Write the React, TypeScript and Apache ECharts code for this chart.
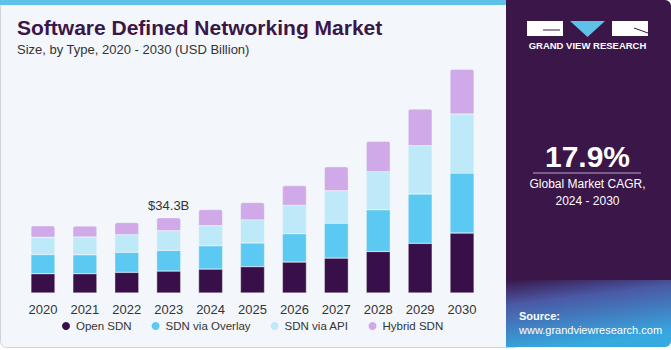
import React, { useEffect, useRef } from "react";
import * as echarts from "echarts";

const years = ["2020", "2021", "2022", "2023", "2024", "2025", "2026", "2027", "2028", "2029", "2030"];
const openSDN = [8.8, 8.8, 9.4, 10.0, 10.9, 12.0, 14.1, 15.9, 18.9, 22.6, 27.3];
const overlaySDN = [8.7, 8.6, 9.1, 9.4, 10.6, 10.8, 12.9, 15.9, 19.0, 22.5, 27.3];
const apiSDN = [7.9, 8.1, 8.1, 9.0, 9.1, 10.5, 12.9, 14.8, 17.4, 22.0, 26.9];
const hybridSDN = [5.2, 5.0, 5.5, 5.9, 7.4, 7.9, 9.0, 10.9, 13.8, 16.7, 20.4];
const seriesNames = ["Open SDN", "SDN via Overlay", "SDN via API", "Hybrid SDN"];
const colors = ["#380f48", "#5bc9f2", "#bde9f9", "#d0a9e8"];
const callout = { index: 3, text: "$34.3B" };

export default function App() {
  const ref = useRef<HTMLDivElement>(null);
  useEffect(() => {
    const chart = echarts.init(ref.current!, null, { renderer: "svg" });
    const data = [openSDN, overlaySDN, apiSDN, hybridSDN];
    const font = "'Liberation Sans', Arial, sans-serif";
    chart.setOption({
      animation: false,
      textStyle: { fontFamily: font },
      grid: { left: 22, right: 188, top: 51.5, bottom: 57 },
      xAxis: {
        type: "category",
        data: years,
        axisLine: { show: false },
        axisTick: { show: false },
        axisLabel: { color: "#333", fontSize: 13, margin: 10, fontFamily: font },
      },
      yAxis: { type: "value", min: 0, max: 110, show: false, splitLine: { show: false } },
      legend: {
        bottom: 13,
        left: 55,
        itemWidth: 10,
        itemHeight: 10,
        itemGap: 18,
        icon: "circle",
        textStyle: { color: "#333", fontSize: 11.5, fontFamily: font },
        data: seriesNames,
      },
      series: seriesNames.map((name, i) => ({
        name,
        type: "bar",
        stack: "total",
        barWidth: 24,
        data: data[i].map((v, j) => {
          if (i === 3 && j === callout.index) {
            return {
              value: v,
              label: {
                show: true,
                position: "top",
                formatter: callout.text,
                color: "#333",
                fontSize: 13,
                distance: 6,
                fontFamily: font,
              },
            };
          }
          return v;
        }),
        itemStyle: {
          color: colors[i],
          borderRadius: i === 3 ? [2, 2, 0, 0] : 0,
          borderColor: "#f3f7fb",
          borderWidth: 0.4,
        },
      })),
      graphic: [
        {
          type: "rect",
          z: -10,
          shape: { x: 0.5, y: 0.5, width: 520, height: 347, r: 6 },
          style: { fill: "#f3f7fb", stroke: "#cfd3d8", lineWidth: 1 },
        },
        {
          type: "rect",
          z: -9,
          shape: { x: 0, y: 0, width: 506, height: 5 },
          style: { fill: "#5ec2e8" },
        },
        {
          type: "rect",
          z: -8,
          shape: { x: 506, y: 0, width: 165, height: 300, r: [0, 6, 0, 0] },
          style: { fill: "#3a1649" },
        },
        {
          type: "rect",
          z: -8,
          shape: { x: 506, y: 280, width: 165, height: 67, r: [0, 0, 6, 0] },
          style: {
            fill: new echarts.graphic.LinearGradient(0, 0, 0.3, 1, [
              { offset: 0, color: "#3a1649" },
              { offset: 0.35, color: "#4a5aa6" },
              { offset: 1, color: "#36a9e0" },
            ]),
          },
        },
        // logo
        {
          type: "rect",
          z: 5,
          shape: { x: 527, y: 21, width: 36, height: 15 },
          style: { fill: "#ffffff", stroke: "#ffffff", lineWidth: 0 },
        },
        {
          type: "line",
          z: 6,
          shape: { x1: 543, y1: 30, x2: 560, y2: 30 },
          style: { stroke: "#3a1649", lineWidth: 1 },
        },
        {
          type: "polygon",
          z: 5,
          shape: { points: [[570, 21], [605, 21], [587.5, 37]] },
          style: { fill: "#5ec2e8" },
        },
        {
          type: "rect",
          z: 5,
          shape: { x: 612, y: 21, width: 36, height: 15 },
          style: { fill: "#ffffff", stroke: "#ffffff", lineWidth: 0 },
        },
        {
          type: "line",
          z: 6,
          shape: { x1: 634, y1: 28, x2: 648, y2: 33 },
          style: { stroke: "#3a1649", lineWidth: 1 },
        },
        {
          type: "text",
          z: 5,
          style: {
            text: "GRAND VIEW RESEARCH",
            x: 587.5,
            y: 45,
            align: "center",
            verticalAlign: "middle",
            fill: "#ffffff",
            font: "bold 9.5px " + font,
          },
        },
        // CAGR
        {
          type: "text",
          z: 5,
          style: {
            text: "17.9%",
            x: 587.5,
            y: 156,
            align: "center",
            verticalAlign: "middle",
            fill: "#ffffff",
            font: "bold 30px " + font,
          },
        },
        {
          type: "line",
          z: 5,
          shape: { x1: 533, y1: 173, x2: 641, y2: 173 },
          style: { stroke: "#b9a9c9", lineWidth: 1 },
        },
        {
          type: "text",
          z: 5,
          style: {
            text: "Global Market CAGR,\n2024 - 2030",
            x: 587.5,
            y: 192,
            align: "center",
            verticalAlign: "middle",
            lineHeight: 17,
            fill: "#ffffff",
            font: "12px " + font,
          },
        },
        // source
        {
          type: "text",
          z: 5,
          style: {
            text: "Source:",
            x: 519,
            y: 316,
            verticalAlign: "middle",
            fill: "#ffffff",
            font: "bold 11px " + font,
          },
        },
        {
          type: "text",
          z: 5,
          style: {
            text: "www.grandviewresearch.com",
            x: 519,
            y: 330,
            verticalAlign: "middle",
            fill: "#ffffff",
            font: "11px " + font,
          },
        },
        // title
        {
          type: "text",
          z: 5,
          style: {
            text: "Software Defined Networking Market",
            x: 17,
            y: 27,
            verticalAlign: "middle",
            fill: "#3a1649",
            font: "900 21px " + font,
          },
        },
        {
          type: "text",
          z: 5,
          style: {
            text: "Size, by Type, 2020 - 2030 (USD Billion)",
            x: 17,
            y: 49,
            verticalAlign: "middle",
            fill: "#333333",
            font: "13px " + font,
          },
        },
      ],
    });
    return () => chart.dispose();
  }, []);
  return <div ref={ref} style={{ width: 671, height: 350, position: "absolute", left: 0, top: 0 }} />;
}
